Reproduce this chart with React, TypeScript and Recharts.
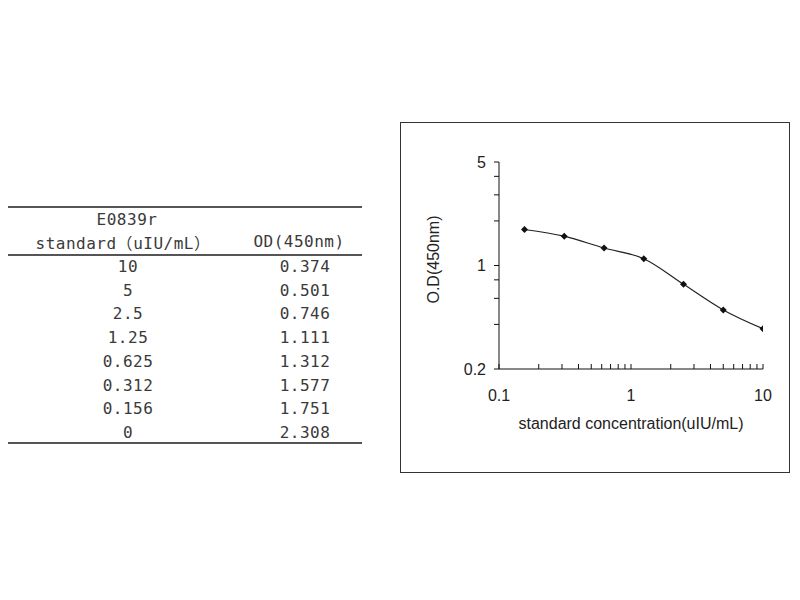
import { LineChart, Line, XAxis, YAxis } from "recharts";

const standards = ["10", "5", "2.5", "1.25", "0.625", "0.312", "0.156", "0"];
const odValues = [0.374, 0.501, 0.746, 1.111, 1.312, 1.577, 1.751, 2.308];
const xTicks = [0.1, 0.2, 0.3, 0.4, 0.5, 0.6, 0.7, 0.8, 0.9, 1, 2, 3, 4, 5, 6, 7, 8, 9, 10];
const yTicks = [0.2, 0.4, 0.6, 0.8, 1, 2, 3, 4, 5];
const xLabels = [0.1, 1, 10];
const yLabels = [0.2, 1, 5];

// the curve skips the blank (0) standard
const curve = standards
  .map((s, i) => ({ conc: Number(s), od: odValues[i] }))
  .filter((d) => d.conc > 0)
  .reverse();

const tableFont = "'DejaVu Sans Mono', 'Liberation Mono', monospace";
const cjkFont = "'Noto Sans CJK SC', sans-serif";
const chartFont = "'Liberation Sans', Arial, sans-serif";

const Diamond = (props: any) => {
  const { cx, cy } = props;
  if (cx == null || cy == null) return null;
  const r = 3.5;
  return (
    <polygon
      points={`${cx},${cy - r} ${cx + r},${cy} ${cx},${cy + r} ${cx - r},${cy}`}
      fill="#111"
    />
  );
};

const rule = (top: number) => (
  <div
    style={{ position: "absolute", left: 3, top, width: 359, height: 2, background: "#555" }}
  />
);

const cell = (content: any, cx: number, cy: number, key?: string) => (
  <div
    key={key}
    style={{
      position: "absolute",
      left: cx - 120,
      top: cy - 12,
      width: 240,
      height: 24,
      lineHeight: "24px",
      textAlign: "center",
      fontFamily: tableFont,
      fontSize: 16,
      letterSpacing: 0.5,
      color: "#3a3a3a",
      whiteSpace: "pre",
    }}
  >
    {content}
  </div>
);

export default function App() {
  return (
    <div style={{ position: "relative", width: 800, height: 600, margin: -8, background: "#fff" }}>
      {rule(206)}
      {cell("E0839r", 127, 220)}
      {cell(
        <>
          standard<span style={{ fontFamily: cjkFont }}>（</span>uIU/mL
          <span style={{ fontFamily: cjkFont }}>）</span>
        </>,
        123,
        242
      )}
      {cell("OD(450nm)", 299, 242)}
      {rule(254)}
      {standards.map((s, i) => cell(s, 128, 267 + i * 23.7, "s" + i))}
      {odValues.map((v, i) => cell(v.toFixed(3), 305, 267 + i * 23.7, "v" + i))}
      {rule(442)}

      <div
        style={{
          position: "absolute",
          left: 400,
          top: 122,
          width: 390,
          height: 351,
          border: "1px solid #333",
          boxSizing: "border-box",
        }}
      >
        <LineChart
          width={388}
          height={349}
          data={curve}
          margin={{ top: 39, right: 26, left: 38, bottom: 43 }}
          style={{ fontFamily: chartFont }}
        >
          <XAxis
            dataKey="conc"
            type="number"
            scale="log"
            domain={[0.1, 10]}
            ticks={xTicks}
            interval={0}
            allowDataOverflow
            height={60}
            stroke="#111"
            tickSize={-5}
            tickMargin={26}
            tick={{ fill: "#222", fontSize: 16 }}
            tickFormatter={(v: number) => (xLabels.includes(v) ? String(v) : "")}
            label={{
              content: ({ viewBox }: any) => (
                <text
                  x={viewBox.x + viewBox.width / 2}
                  y={viewBox.y + 56}
                  textAnchor="middle"
                  dominantBaseline="middle"
                  fontSize={16}
                  fill="#222"
                >
                  standard concentration(uIU/mL)
                </text>
              ),
            }}
          />
          <YAxis
            dataKey="od"
            type="number"
            scale="log"
            domain={[0.2, 5]}
            ticks={yTicks}
            interval={0}
            allowDataOverflow
            width={60}
            stroke="#111"
            tickSize={5}
            tickMargin={8}
            tick={{ fill: "#222", fontSize: 16 }}
            tickFormatter={(v: number) => (yLabels.includes(v) ? String(v) : "")}
            label={{
              content: ({ viewBox }: any) => {
                const x = viewBox.x - 4;
                const y = viewBox.y + viewBox.height / 2 - 6;
                return (
                  <text
                    x={x}
                    y={y}
                    transform={`rotate(-90, ${x}, ${y})`}
                    textAnchor="middle"
                    dominantBaseline="middle"
                    fontSize={16}
                    fill="#222"
                  >
                    O.D(450nm)
                  </text>
                );
              },
            }}
          />
          <Line
            type="monotone"
            dataKey="od"
            stroke="#222"
            strokeWidth={1.2}
            dot={<Diamond />}
            activeDot={false}
            isAnimationActive={false}
          />
        </LineChart>
      </div>
    </div>
  );
}
